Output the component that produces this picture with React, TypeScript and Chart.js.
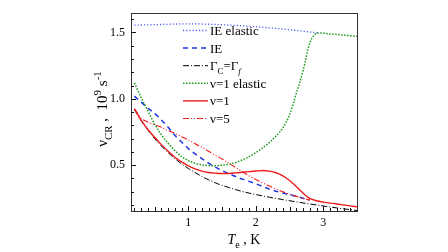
import React, { useEffect, useRef } from "react";
import { Chart, registerables } from "chart.js";
Chart.register(...registerables);

// ---- data ----
const ieElasticX = [0.2, 0.6, 1.0, 1.4, 1.8, 2.2, 2.6, 2.93];
const ieElasticY = [1.555, 1.56, 1.565, 1.56, 1.55, 1.535, 1.515, 1.496];

const ieX = [0.2, 0.3, 0.4, 0.5, 0.6, 0.7, 0.8, 0.9, 1.0, 1.1, 1.2, 1.3, 1.4, 1.5, 1.6, 1.7, 1.8, 1.9, 2.0, 2.2, 2.4, 2.6, 2.8];
const ieY = [1.02, 0.975, 0.93, 0.89, 0.84, 0.785, 0.725, 0.675, 0.625, 0.585, 0.55, 0.515, 0.485, 0.46, 0.437, 0.415, 0.395, 0.378, 0.36, 0.32, 0.29, 0.265, 0.237];

const gammaX = [0.2, 0.3, 0.4, 0.5, 0.6, 0.7, 0.8, 0.9, 1.0, 1.1, 1.2, 1.3, 1.4, 1.5, 1.6, 1.7, 1.8, 1.9, 2.0, 2.2, 2.4, 2.6, 2.8, 3.0, 3.2, 3.4, 3.5];
const gammaY = [0.92, 0.835, 0.765, 0.7, 0.645, 0.595, 0.55, 0.51, 0.475, 0.445, 0.415, 0.39, 0.367, 0.348, 0.332, 0.316, 0.302, 0.29, 0.279, 0.259, 0.241, 0.224, 0.208, 0.193, 0.178, 0.165, 0.158];

const v1ElasticX = [0.2, 0.3, 0.4, 0.5, 0.6, 0.7, 0.8, 0.9, 1.0, 1.1, 1.2, 1.3, 1.4, 1.5, 1.6, 1.7, 1.8, 1.9, 2.0, 2.1, 2.2, 2.3, 2.4, 2.5, 2.6, 2.7, 2.8, 2.93, 3.1, 3.3, 3.5];
const v1ElasticY = [1.12, 1.01, 0.91, 0.81, 0.73, 0.665, 0.61, 0.565, 0.535, 0.515, 0.503, 0.497, 0.496, 0.5, 0.507, 0.52, 0.54, 0.565, 0.595, 0.63, 0.67, 0.72, 0.78, 0.88, 1.04, 1.21, 1.42, 1.496, 1.489, 1.48, 1.47];

const v1X = [0.2, 0.3, 0.4, 0.5, 0.6, 0.7, 0.8, 0.9, 1.0, 1.1, 1.2, 1.3, 1.4, 1.5, 1.6, 1.7, 1.8, 1.9, 2.0, 2.1, 2.2, 2.3, 2.4, 2.5, 2.6, 2.7, 2.8, 2.9, 3.0, 3.2, 3.4, 3.5];
const v1Y = [0.925, 0.84, 0.77, 0.71, 0.655, 0.605, 0.56, 0.525, 0.495, 0.472, 0.455, 0.445, 0.44, 0.437, 0.438, 0.442, 0.447, 0.452, 0.456, 0.46, 0.455, 0.443, 0.42, 0.385, 0.34, 0.29, 0.25, 0.232, 0.222, 0.208, 0.194, 0.186];

const v5X = [0.2, 0.3, 0.4, 0.5, 0.6, 0.7, 0.8, 0.9, 1.0, 1.1, 1.2, 1.3, 1.4, 1.5, 1.6, 1.7, 1.8, 1.9, 2.0, 2.2, 2.4, 2.6, 2.8];
const v5Y = [0.925, 0.855, 0.825, 0.805, 0.785, 0.76, 0.74, 0.715, 0.69, 0.662, 0.635, 0.605, 0.575, 0.547, 0.515, 0.483, 0.45, 0.42, 0.393, 0.343, 0.3, 0.265, 0.237];

const xTicks = [1, 2, 3];
const yTicks = [0.5, 1.0, 1.5];

const FONT = '"Liberation Serif", "Times New Roman", serif';

type Part = { t: string; sub?: boolean; sup?: boolean; italic?: boolean };

function partFont(p: Part, size: number) {
  const s = p.sub || p.sup ? Math.round(size * 0.7) : size;
  return `${p.italic ? "italic " : ""}${s}px ${FONT}`;
}
function measureRich(ctx: CanvasRenderingContext2D, parts: Part[], size: number) {
  let w = 0;
  for (const p of parts) {
    ctx.font = partFont(p, size);
    w += ctx.measureText(p.t).width;
  }
  return w;
}
function drawRich(ctx: CanvasRenderingContext2D, parts: Part[], x: number, y: number, size: number) {
  let cx = x;
  ctx.textBaseline = "alphabetic";
  ctx.textAlign = "left";
  for (const p of parts) {
    ctx.font = partFont(p, size);
    const dy = p.sub ? size * 0.3 : p.sup ? -size * 0.4 : 0;
    ctx.fillText(p.t, cx, y + dy);
    cx += ctx.measureText(p.t).width;
  }
}

const legendItems: { parts: Part[]; color: string; dash: number[]; width: number }[] = [
  { parts: [{ t: "IE elastic" }], color: "#4d5cf2", dash: [1.2, 2], width: 1.3 },
  { parts: [{ t: "IE" }], color: "#1f35e0", dash: [5, 4], width: 1.5 },
  { parts: [{ t: "Γ" }, { t: "C", sub: true }, { t: "=Γ" }, { t: "f", sub: true, italic: true }], color: "#000000", dash: [6, 2, 1, 2], width: 1 },
  { parts: [{ t: "ν=1 elastic" }], color: "#1a9a1a", dash: [1.5, 1.5], width: 1.5 },
  { parts: [{ t: "ν=1" }], color: "#f01c1c", dash: [], width: 1.4 },
  { parts: [{ t: "ν=5" }], color: "#f01c1c", dash: [6, 2, 1, 2, 1, 2], width: 1.1 },
];

const decor = {
  id: "decor",
  afterDraw(chart: any) {
    const ctx: CanvasRenderingContext2D = chart.ctx;
    const { left, right, top, bottom } = chart.chartArea;
    const xs = chart.scales.x;
    const ys = chart.scales.y;
    ctx.save();
    // frame
    ctx.strokeStyle = "#333";
    ctx.lineWidth = 1;
    ctx.setLineDash([]);
    ctx.strokeRect(Math.round(left) + 0.5, Math.round(top) + 0.5, Math.round(right - left), Math.round(bottom - top));
    // ticks
    ctx.strokeStyle = "#111";
    ctx.beginPath();
    for (let i = 2; i <= 34; i++) {
      const v = i / 10;
      const px = Math.round(xs.getPixelForValue(v)) + 0.5;
      const len = i % 10 === 0 ? 5 : i % 5 === 0 ? 4 : 3;
      ctx.moveTo(px, bottom);
      ctx.lineTo(px, bottom - len);
    }
    for (let i = 2; i <= 16; i++) {
      const v = i / 10;
      const py = Math.round(ys.getPixelForValue(v)) + 0.5;
      const len = i % 5 === 0 ? 5 : 3;
      ctx.moveTo(left, py);
      ctx.lineTo(left + len, py);
    }
    ctx.stroke();

    // legend
    ctx.fillStyle = "#000";
    legendItems.forEach((it, i) => {
      const y = 30.5 + i * 17.6;
      ctx.strokeStyle = it.color;
      ctx.lineWidth = it.width;
      ctx.setLineDash(it.dash);
      ctx.beginPath();
      ctx.moveTo(183, y);
      ctx.lineTo(208, y);
      ctx.stroke();
      ctx.setLineDash([]);
      ctx.fillStyle = "#000";
      drawRich(ctx, it.parts, 210, y + 4.5, 13);
    });

    // x title
    const xt: Part[] = [{ t: "T", italic: true }, { t: "e", sub: true }, { t: " , K" }];
    const xw = measureRich(ctx, xt, 14);
    drawRich(ctx, xt, (left + right) / 2 - xw / 2, 244, 14);

    // y title
    const yt: Part[] = [{ t: "ν" }, { t: "CR", sub: true }, { t: " ,  10" }, { t: "9", sup: true }, { t: " s" }, { t: "-1", sup: true }];
    const yw = measureRich(ctx, yt, 15);
    ctx.translate(107, 109);
    ctx.rotate(-Math.PI / 2);
    drawRich(ctx, yt, -yw / 2, 0, 15);
    ctx.restore();
  },
};

function ds(label: string, xsArr: number[], ysArr: number[], color: string, dash: number[], width: number) {
  return {
    label,
    data: xsArr.map((x, i) => ({ x, y: ysArr[i] })),
    borderColor: color,
    borderDash: dash,
    borderWidth: width,
    pointRadius: 0,
    fill: false,
    cubicInterpolationMode: "monotone" as const,
  };
}

export default function App() {
  const ref = useRef<HTMLCanvasElement>(null);
  useEffect(() => {
    document.body.style.margin = "0";
    const c = ref.current!;
    const chart = new Chart(c, {
      type: "line",
      data: {
        datasets: [
          ds("ν=1 elastic", v1ElasticX, v1ElasticY, legendItems[3].color, legendItems[3].dash, legendItems[3].width),
          ds("IE elastic", ieElasticX, ieElasticY, legendItems[0].color, legendItems[0].dash, legendItems[0].width),
          ds("ν=1", v1X, v1Y, legendItems[4].color, legendItems[4].dash, legendItems[4].width),
          ds("ν=5", v5X, v5Y, legendItems[5].color, legendItems[5].dash, legendItems[5].width),
          ds("IE", ieX, ieY, legendItems[1].color, legendItems[1].dash, legendItems[1].width),
          ds("ΓC=Γf", gammaX, gammaY, legendItems[2].color, legendItems[2].dash, legendItems[2].width),
        ],
      },
      options: {
        responsive: false,
        animation: false,
        devicePixelRatio: 1,
        layout: { padding: { left: 0, right: 91, top: 2, bottom: 0 } },
        plugins: { legend: { display: false }, tooltip: { enabled: false } },
        scales: {
          x: {
            type: "linear",
            min: 0.15,
            max: 3.5,
            grid: { display: false, drawTicks: false },
            border: { display: false },
            afterBuildTicks: (s: any) => { s.ticks = xTicks.map((v) => ({ value: v })); },
            afterFit: (s: any) => { s.height = 41; },
            ticks: { color: "#000", font: { family: FONT, size: 12 }, padding: 5, maxRotation: 0, callback: (v: any) => String(v) },
          },
          y: {
            type: "linear",
            min: 0.155,
            max: 1.645,
            grid: { display: false, drawTicks: false },
            border: { display: false },
            afterBuildTicks: (s: any) => { s.ticks = yTicks.map((v) => ({ value: v })); },
            afterFit: (s: any) => { s.width = 131; },
            ticks: { color: "#000", font: { family: FONT, size: 12 }, padding: 6, callback: (v: any) => Number(v).toFixed(1) },
          },
        },
      },
      plugins: [decor],
    });
    return () => chart.destroy();
  }, []);
  return (
    <div style={{ width: 448, height: 252 }}>
      <canvas ref={ref} width={448} height={252} />
    </div>
  );
}
